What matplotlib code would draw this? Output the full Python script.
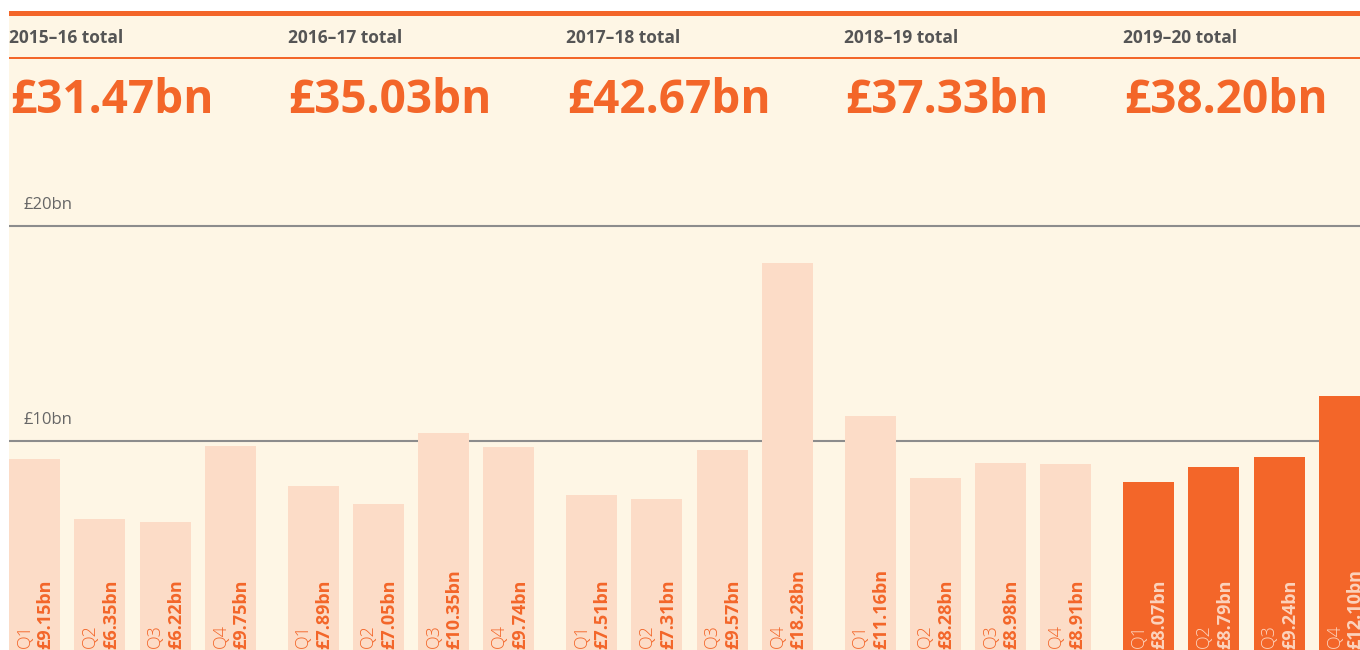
import matplotlib as mpl
mpl.use('Agg')
import matplotlib.pyplot as plt
from matplotlib.patches import Rectangle

# data
years = ['2015–16', '2016–17', '2017–18', '2018–19', '2019–20']
totals = ['£31.47bn', '£35.03bn', '£42.67bn', '£37.33bn', '£38.20bn']
quarters = ['Q1', 'Q2', 'Q3', 'Q4']
values = [
    [9.15, 6.35, 6.22, 9.75],
    [7.89, 7.05, 10.35, 9.74],
    [7.51, 7.31, 9.57, 18.28],
    [11.16, 8.28, 8.98, 8.91],
    [8.07, 8.79, 9.24, 12.10],
]
grid_vals = [10, 20]

orange = '#f36629'
peach = '#fcdcc7'
cream = '#fef6e5'
font = ['Open Sans', 'DejaVu Sans']
plt.rcParams['font.family'] = font

W, H = 1360, 650
fig = plt.figure(figsize=(W / 100, H / 100), dpi=100, facecolor='white')

# background and rules (figure pixel coords)
fig.add_artist(Rectangle((9 / W, 0), 1 - 9 / W, (H - 15) / H,
                         transform=fig.transFigure, facecolor=cream,
                         edgecolor='none', zorder=-2))
fig.add_artist(Rectangle((9 / W, (H - 16) / H), 1 - 9 / W, 5 / H,
                         transform=fig.transFigure, facecolor=orange,
                         edgecolor='none', zorder=-1))
fig.add_artist(Rectangle((9 / W, (H - 59) / H), 1 - 9 / W, 1.5 / H,
                         transform=fig.transFigure, facecolor=orange,
                         edgecolor='none', zorder=-1))

ax = fig.add_axes([0, 0, 1, 1])
ax.set_facecolor('none')
px_per_bn = 21.5
zero_px = 656
ax.set_xlim(0, W)
ax.set_ylim((zero_px - H) / px_per_bn, zero_px / px_per_bn)
ax.axis('off')

# gridlines + labels
ax.hlines(grid_vals, 9, W, color='#8c8c8c', lw=1.5, zorder=1)
for g in grid_vals:
    ax.annotate(f'£{g}bn', (24, g), xytext=(0, 21), textcoords='offset pixels',
                ha='left', va='center', fontsize=12, color='#666666')

group_step = 278.5
bar_step = 65.3
bar_w = 51
y0 = ax.get_ylim()[0]
for gi, (yr, tot, vals) in enumerate(zip(years, totals, values)):
    gx = 9 + gi * group_step
    last = gi == len(years) - 1
    fc = orange if last else peach
    tc = '#fcd3bd' if last else orange
    xs = [gx + qi * bar_step for qi in range(len(vals))]
    ax.bar(xs, vals, width=bar_w, align='edge', color=fc, zorder=2)
    for x, q, v in zip(xs, quarters, vals):
        cx = x + bar_w / 2
        ax.annotate(q, (cx, y0), xytext=(-10, 2), textcoords='offset pixels',
                    rotation=90, ha='center', va='bottom', fontsize=13,
                    fontweight='light', color=tc, zorder=3)
        ax.annotate(f'£{v:.2f}bn', (cx, y0), xytext=(11, 1),
                    textcoords='offset pixels', rotation=90, ha='center',
                    va='bottom', fontsize=13, fontweight='bold', color=tc,
                    zorder=3)

    fig.text(gx / W, 1 - 43 / H, f'{yr} total', ha='left', va='baseline',
             fontsize=12.5, fontweight='bold', color='#555555')
    fig.text((gx + 1) / W, 1 - 113 / H, tot, ha='left', va='baseline',
             fontsize=33, fontweight='bold', color=orange)

fig.savefig('out.png', dpi=100, facecolor='white')
plt.close()
